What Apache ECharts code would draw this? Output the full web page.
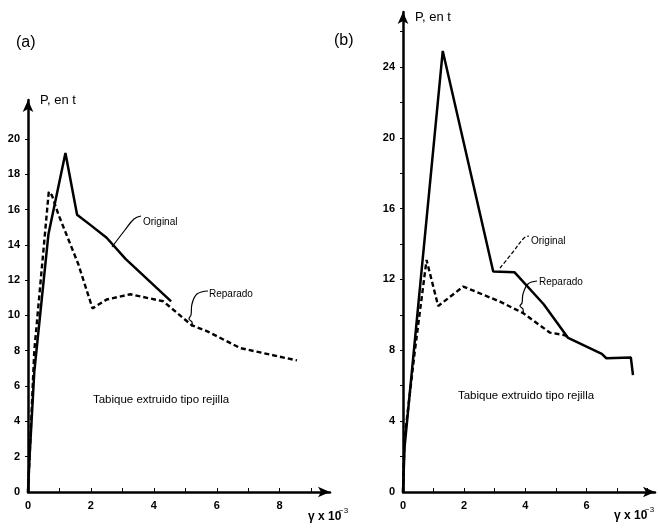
<!DOCTYPE html>
<html>
<head>
<meta charset="utf-8">
<script src="https://cdn.jsdelivr.net/npm/echarts@6/dist/echarts.min.js"></script>
<style>
  html, body { margin: 0; padding: 0; background: #fff; }
  #chart { width: 658px; height: 528px; }
</style>
</head>
<body>
<div id="chart"></div>
<script>
// (a) curves, [gamma x 1e-3, P in t]
const aOriginal = [[0, 0], [0.05, 2], [0.2, 6.8], [0.65, 14.6], [1.19, 19.2], [1.56, 15.7], [2.0, 15.1], [2.5, 14.4], [3.1, 13.2], [4.55, 10.8]];
const aReparado = [[0, 0], [0.1, 4], [0.2, 8], [0.66, 17.0], [0.76, 16.8], [0.97, 15.7], [1.6, 12.9], [2.05, 10.4], [2.5, 10.9], [3.25, 11.2], [4.3, 10.8], [5.2, 9.45], [5.7, 9.1], [6.75, 8.15], [8.55, 7.45]];

// (b) curves
const bOriginal = [[0, 0], [0.05, 2.5], [1.3, 24.9], [2.95, 12.45], [3.65, 12.4], [4.6, 10.6], [5.4, 8.7], [6.5, 7.8], [6.65, 7.55], [7.45, 7.6], [7.52, 6.6]];
const bReparado = [[0, 0], [0.05, 3], [0.39, 8], [0.77, 13.1], [1.15, 10.5], [1.97, 11.6], [3.17, 10.75], [3.93, 10.1], [4.8, 9.0], [5.3, 8.85], [5.4, 8.7]];

// tick marks and labels
const aXTicks = [1, 2, 3, 4, 5, 6, 7, 8, 9];
const aXLabels = [0, 2, 4, 6, 8];
const aYTicks = [2, 4, 6, 8, 10, 12, 14, 16, 18, 20];
const aYLabels = [0, 2, 4, 6, 8, 10, 12, 14, 16, 18, 20];
const bXTicks = [1, 2, 3, 4, 5, 6, 7, 8];
const bXLabels = [0, 2, 4, 6];
const bYTicks = [2, 4, 6, 8, 10, 12, 14, 16, 18, 20, 22, 24, 26];
const bYLabels = [0, 4, 8, 12, 16, 20, 24];

const font = "Liberation Sans";

function xAxis(gi, max, ticks, labels) {
  return {
    type: "value", gridIndex: gi, min: 0, max: max,
    axisLine: { lineStyle: { color: "#000", width: 2.5 }, symbol: ["none", "arrow"], symbolSize: [8, 12] },
    axisTick: { show: true, inside: true, length: 4, customValues: ticks, lineStyle: { color: "#000", width: 1 } },
    axisLabel: { customValues: labels, color: "#000", fontWeight: "bold", fontSize: 11, fontFamily: font, margin: 8 },
    splitLine: { show: false }
  };
}

function yAxis(gi, max, ticks, labels) {
  return {
    type: "value", gridIndex: gi, min: 0, max: max,
    axisLine: { show: true, lineStyle: { color: "#000", width: 2.5 }, symbol: ["none", "arrow"], symbolSize: [8, 12] },
    axisTick: { show: true, inside: false, length: 3, customValues: ticks, lineStyle: { color: "#000", width: 1 } },
    axisLabel: { customValues: labels, color: "#000", fontWeight: "bold", fontSize: 11, fontFamily: font, margin: 8 },
    splitLine: { show: false }
  };
}

function line(name, gi, data, dashed) {
  return {
    name: name, type: "line", xAxisIndex: gi, yAxisIndex: gi, data: data,
    symbol: "none", animation: false,
    lineStyle: { color: "#000", width: dashed ? 2.4 : 2.5, type: dashed ? [5, 3] : "solid" }
  };
}

const txt = (x, y, text, size, extra) => ({
  type: "text", x: x, y: y,
  style: Object.assign({ text: text, fill: "#000", font: size + "px " + font, textVerticalAlign: "middle" }, extra || {})
});

const leader = (points, dash) => ({
  type: "polyline", shape: { points: points, smooth: 0.4 },
  style: { stroke: "#000", lineWidth: 1.2, fill: null, lineDash: dash || null }
});

const myChart = echarts.init(document.getElementById("chart"));
myChart.setOption({
  animation: false,
  backgroundColor: "#fff",
  grid: [
    { left: 28, top: 100, width: 302, height: 392 },
    { left: 403, top: 12, width: 252, height: 480 }
  ],
  xAxis: [xAxis(0, 9.6, aXTicks, aXLabels), xAxis(1, 8.24, bXTicks, bXLabels)],
  yAxis: [yAxis(0, 22.2, aYTicks, aYLabels), yAxis(1, 27.1, bYTicks, bYLabels)],
  series: [
    line("Original", 0, aOriginal, false),
    line("Reparado", 0, aReparado, true),
    line("Original", 1, bOriginal, false),
    line("Reparado", 1, bReparado, true)
  ],
  graphic: [
    txt(16, 43, "(a)", 16),
    txt(334, 41, "(b)", 16),
    txt(40, 100, "P, en t", 13),
    txt(415, 17, "P, en t", 13),
    txt(308, 517, "γ x 10", 11, { fontWeight: "bold" }),
    txt(339, 511, "−3", 8),
    txt(614, 516, "γ x 10", 11, { fontWeight: "bold" }),
    txt(645, 510, "−3", 8),
    txt(161, 400, "Tabique extruido tipo rejilla", 11.5, { textAlign: "center" }),
    txt(526, 396, "Tabique extruido tipo rejilla", 11.5, { textAlign: "center" }),
    txt(143, 222, "Original", 10, { fontStyle: "italic" }),
    txt(209, 294, "Reparado", 10, { fontStyle: "italic" }),
    txt(531, 241, "Original", 10, { fontStyle: "italic" }),
    txt(539, 282, "Reparado", 10, { fontStyle: "italic" }),
    leader([[112, 247], [125, 230], [134, 219], [141, 216]]),
    leader([[208, 291], [197, 294], [192, 304], [191, 315], [189, 319], [192, 322], [192, 327]]),
    leader([[500, 268], [513, 252], [524, 238], [529, 236]], [4, 2]),
    leader([[537, 281], [528, 284], [523, 294], [522, 303], [520, 306], [523, 309], [523, 314]])
  ]
});
</script>
</body>
</html>
